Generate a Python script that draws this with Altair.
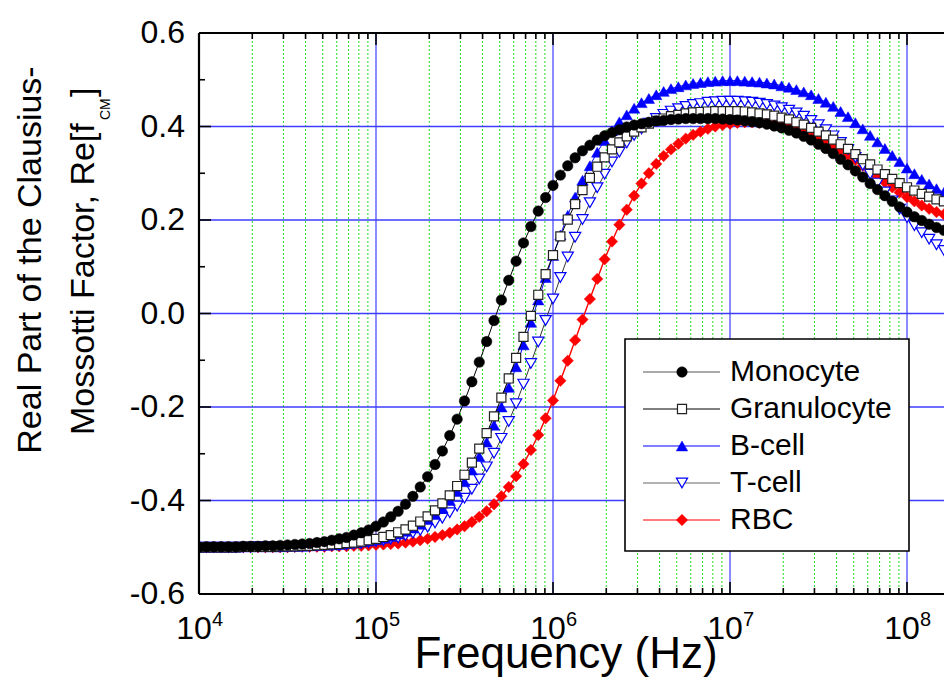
import altair as alt
import pandas as pd
import numpy as np

FONT = "Liberation Sans"

series_names = ["Monocyte", "Granulocyte", "B-cell", "T-cell", "RBC"]

# sampling grid: 24 points per decade, 1e4 Hz ... 10^8.25 Hz
freq_hz = list(np.logspace(4, 8.25, 103))

monocyte = [-0.500, -0.499, -0.499, -0.499, -0.499, -0.499, -0.498, -0.498, -0.498, -0.497,
            -0.497, -0.496, -0.495, -0.494, -0.493, -0.492, -0.490, -0.488, -0.485, -0.482,
            -0.479, -0.474, -0.469, -0.463, -0.455, -0.446, -0.435, -0.423, -0.408, -0.391,
            -0.371, -0.349, -0.323, -0.294, -0.261, -0.226, -0.187, -0.146, -0.104, -0.060,
            -0.015, 0.029, 0.071, 0.112, 0.151, 0.186, 0.219, 0.248, 0.274, 0.296,
            0.316, 0.333, 0.348, 0.360, 0.371, 0.380, 0.387, 0.393, 0.399, 0.403,
            0.406, 0.409, 0.412, 0.413, 0.415, 0.416, 0.417, 0.417, 0.417, 0.417,
            0.417, 0.416, 0.415, 0.414, 0.412, 0.410, 0.408, 0.405, 0.401, 0.397,
            0.392, 0.386, 0.379, 0.371, 0.362, 0.353, 0.342, 0.330, 0.318, 0.305,
            0.292, 0.278, 0.265, 0.252, 0.240, 0.228, 0.217, 0.207, 0.199, 0.191,
            0.184, 0.178, 0.173]

granulocyte = [-0.500, -0.500, -0.500, -0.500, -0.500, -0.500, -0.499, -0.499, -0.499, -0.499,
               -0.499, -0.498, -0.498, -0.498, -0.497, -0.497, -0.496, -0.495, -0.494, -0.493,
               -0.491, -0.490, -0.488, -0.485, -0.482, -0.478, -0.474, -0.468, -0.462, -0.454,
               -0.445, -0.434, -0.421, -0.406, -0.389, -0.369, -0.345, -0.319, -0.289, -0.256,
               -0.220, -0.180, -0.139, -0.095, -0.050, -0.005, 0.040, 0.084, 0.125, 0.165,
               0.201, 0.234, 0.264, 0.290, 0.314, 0.334, 0.351, 0.366, 0.379, 0.389,
               0.398, 0.406, 0.412, 0.417, 0.422, 0.425, 0.428, 0.430, 0.431, 0.432,
               0.433, 0.433, 0.433, 0.433, 0.432, 0.430, 0.428, 0.426, 0.423, 0.419,
               0.415, 0.409, 0.404, 0.397, 0.389, 0.381, 0.372, 0.362, 0.352, 0.341,
               0.330, 0.319, 0.308, 0.298, 0.288, 0.279, 0.270, 0.263, 0.256, 0.250,
               0.244, 0.240, 0.236]

bcell = [-0.500, -0.500, -0.500, -0.500, -0.500, -0.500, -0.499, -0.499, -0.499, -0.499,
         -0.499, -0.499, -0.498, -0.498, -0.498, -0.497, -0.496, -0.496, -0.495, -0.494,
         -0.492, -0.491, -0.489, -0.487, -0.484, -0.481, -0.477, -0.472, -0.466, -0.459,
         -0.451, -0.441, -0.430, -0.416, -0.400, -0.381, -0.360, -0.335, -0.306, -0.275,
         -0.239, -0.200, -0.158, -0.114, -0.067, -0.019, 0.029, 0.077, 0.124, 0.168,
         0.210, 0.249, 0.285, 0.316, 0.345, 0.370, 0.391, 0.410, 0.425, 0.439,
         0.451, 0.460, 0.468, 0.475, 0.481, 0.485, 0.489, 0.492, 0.494, 0.496,
         0.497, 0.498, 0.498, 0.498, 0.497, 0.496, 0.495, 0.493, 0.491, 0.487,
         0.484, 0.479, 0.474, 0.468, 0.460, 0.452, 0.443, 0.432, 0.421, 0.408,
         0.395, 0.381, 0.367, 0.353, 0.338, 0.325, 0.311, 0.299, 0.287, 0.277,
         0.267, 0.259, 0.252]

tcell = [-0.500, -0.500, -0.500, -0.500, -0.500, -0.500, -0.500, -0.500, -0.499, -0.499,
         -0.499, -0.499, -0.499, -0.499, -0.498, -0.498, -0.497, -0.497, -0.496, -0.496,
         -0.495, -0.493, -0.492, -0.490, -0.488, -0.486, -0.483, -0.480, -0.475, -0.470,
         -0.464, -0.457, -0.448, -0.438, -0.426, -0.412, -0.395, -0.376, -0.354, -0.328,
         -0.299, -0.267, -0.231, -0.193, -0.151, -0.107, -0.061, -0.015, 0.031, 0.077,
         0.121, 0.163, 0.201, 0.237, 0.269, 0.298, 0.324, 0.345, 0.365, 0.381,
         0.395, 0.407, 0.417, 0.426, 0.433, 0.438, 0.443, 0.447, 0.449, 0.452,
         0.453, 0.454, 0.454, 0.454, 0.453, 0.452, 0.450, 0.447, 0.444, 0.440,
         0.435, 0.429, 0.422, 0.413, 0.404, 0.393, 0.380, 0.366, 0.351, 0.334,
         0.317, 0.298, 0.279, 0.260, 0.241, 0.223, 0.205, 0.188, 0.173, 0.159,
         0.147, 0.135, 0.125]

rbc = [-0.500, -0.500, -0.500, -0.500, -0.500, -0.500, -0.500, -0.500, -0.500, -0.500,
       -0.500, -0.500, -0.500, -0.499, -0.499, -0.499, -0.499, -0.499, -0.498, -0.498,
       -0.498, -0.497, -0.497, -0.496, -0.495, -0.494, -0.493, -0.492, -0.490, -0.488,
       -0.485, -0.482, -0.478, -0.474, -0.469, -0.462, -0.455, -0.446, -0.435, -0.423,
       -0.408, -0.391, -0.371, -0.348, -0.322, -0.292, -0.260, -0.224, -0.186, -0.144,
       -0.101, -0.057, -0.013, 0.031, 0.074, 0.116, 0.154, 0.190, 0.222, 0.252,
       0.278, 0.300, 0.320, 0.337, 0.351, 0.363, 0.374, 0.382, 0.389, 0.395,
       0.400, 0.403, 0.406, 0.408, 0.409, 0.409, 0.408, 0.407, 0.405, 0.403,
       0.399, 0.395, 0.390, 0.383, 0.376, 0.368, 0.360, 0.350, 0.339, 0.328,
       0.316, 0.305, 0.293, 0.281, 0.270, 0.259, 0.249, 0.240, 0.231, 0.224,
       0.217, 0.212, 0.207]

y_major = [-0.6, -0.4, -0.2, 0.0, 0.2, 0.4, 0.6]
y_major_labels = ["-0.6", "-0.4", "-0.2", "0.0", "0.2", "0.4", "0.6"]
y_minor = [-0.5, -0.3, -0.1, 0.1, 0.3, 0.5]
x_major = [1e4, 1e5, 1e6, 1e7, 1e8]
x_major_exp = ["4", "5", "6", "7", "8"]
x_minor_mult = [2, 3, 4, 5, 6, 7, 8, 9]

DEC = 177.0          # pixels per decade
W, H = 745, 561
XMAX = 10 ** (4 + W / DEC)
x_minor = [m * 10 ** e for e in range(4, 9) for m in x_minor_mult if m * 10 ** e <= XMAX]

xs = alt.Scale(type="log", domain=[1e4, XMAX], nice=False)
ys = alt.Scale(domain=[-0.6, 0.6], nice=False, zero=False)


def X(field="f"):
    return alt.X(f"{field}:Q", scale=xs, axis=None)


def Y(field="v"):
    return alt.Y(f"{field}:Q", scale=ys, axis=None)


layers = []

# grid
df_xminor = pd.DataFrame({"f": x_minor})
df_xmajor = pd.DataFrame({"f": x_major, "e": x_major_exp})
df_ymajor = pd.DataFrame({"v": y_major, "lab": y_major_labels})
df_yminor = pd.DataFrame({"v": y_minor})

layers.append(alt.Chart(df_xminor).mark_rule(color="#22dd22", strokeDash=[2, 2], strokeWidth=1)
              .encode(x=X()))
layers.append(alt.Chart(df_xmajor[df_xmajor.f > 1e4]).mark_rule(color="#5a5aff", strokeWidth=1.4)
              .encode(x=X()))
layers.append(alt.Chart(df_ymajor[(df_ymajor.v > -0.6) & (df_ymajor.v < 0.6)])
              .mark_rule(color="#3c3cff", strokeWidth=1.3).encode(y=Y()))

# series (drawn bottom -> top)
styles = {
    "RBC": dict(line="#ff0000", lw=1.4, shape="diamond", fill="#ff0000", stroke="#ff0000", size=130, sw=0.5),
    "T-cell": dict(line="#333333", lw=1.0, shape="triangle-down", fill="white", stroke="#0000ff", size=125, sw=1.2),
    "B-cell": dict(line="#0000ff", lw=1.0, shape="triangle-up", fill="#0000ff", stroke="#0000ff", size=130, sw=0.5),
    "Granulocyte": dict(line="#000000", lw=1.0, shape="square", fill="white", stroke="#222222", size=82, sw=1.2),
    "Monocyte": dict(line="#000000", lw=1.0, shape="circle", fill="#000000", stroke="#000000", size=110, sw=0.5),
}
values = {"Monocyte": monocyte, "Granulocyte": granulocyte, "B-cell": bcell, "T-cell": tcell, "RBC": rbc}

for name in ["RBC", "T-cell", "B-cell", "Granulocyte", "Monocyte"]:
    st = styles[name]
    d = pd.DataFrame({"f": freq_hz, "v": values[name]})
    base = alt.Chart(d)
    layers.append(base.mark_line(color=st["line"], strokeWidth=st["lw"], clip=True).encode(x=X(), y=Y()))
    layers.append(base.mark_point(shape=st["shape"], filled=True, fill=st["fill"], stroke=st["stroke"],
                                  strokeWidth=st["sw"], size=st["size"], opacity=1, fillOpacity=1, clip=True)
                  .encode(x=X(), y=Y()))

# ticks (inward)
TK = dict(color="black", strokeWidth=1.6)
layers.append(alt.Chart(df_xmajor).mark_rule(**TK).encode(x=X(), y=alt.value(H), y2=alt.value(H - 12)))
layers.append(alt.Chart(df_xminor).mark_rule(**TK).encode(x=X(), y=alt.value(H), y2=alt.value(H - 6)))
layers.append(alt.Chart(df_xmajor).mark_rule(**TK).encode(x=X(), y=alt.value(0), y2=alt.value(12)))
layers.append(alt.Chart(df_xminor).mark_rule(**TK).encode(x=X(), y=alt.value(0), y2=alt.value(6)))
layers.append(alt.Chart(df_ymajor).mark_rule(**TK).encode(y=Y(), x=alt.value(0), x2=alt.value(12)))
layers.append(alt.Chart(df_yminor).mark_rule(**TK).encode(y=Y(), x=alt.value(0), x2=alt.value(6)))

# frame lines
layers.append(alt.Chart(df_xmajor.head(1)).mark_rule(color="black", strokeWidth=2.2).encode(x=alt.value(0)))
layers.append(alt.Chart(df_xmajor.head(1)).mark_rule(color="black", strokeWidth=2.2).encode(y=alt.value(0)))
layers.append(alt.Chart(df_xmajor.head(1)).mark_rule(color="black", strokeWidth=2.2).encode(y=alt.value(H)))

# tick labels
layers.append(alt.Chart(df_ymajor).mark_text(font=FONT, fontSize=32, align="right", baseline="middle")
              .encode(y=Y(), x=alt.value(-14), text="lab:N"))
layers.append(alt.Chart(df_xmajor).mark_text(font=FONT, fontSize=32, align="center", baseline="alphabetic", dx=-5)
              .encode(x=X(), y=alt.value(H + 45), text=alt.value("10")))
layers.append(alt.Chart(df_xmajor).mark_text(font=FONT, fontSize=20, align="left", baseline="alphabetic", dx=13)
              .encode(x=X(), y=alt.value(H + 32), text="e:N"))

# axis titles
titles = pd.DataFrame({"t": ["Frequency (Hz)"]})
layers.append(alt.Chart(titles).mark_text(font=FONT, fontSize=44, align="center", baseline="alphabetic")
              .encode(x=alt.value(367), y=alt.value(635), text="t:N"))
yt1 = pd.DataFrame({"t": ["Real Part of the Clausius-"]})
layers.append(alt.Chart(yt1).mark_text(font=FONT, fontSize=34, angle=270, align="center", baseline="alphabetic")
              .encode(x=alt.value(-158), y=alt.value(227), text="t:N"))
yt2 = pd.DataFrame({"t": ["Mossotti Factor, Re[f"]})
layers.append(alt.Chart(yt2).mark_text(font=FONT, fontSize=34, angle=270, align="left", baseline="alphabetic")
              .encode(x=alt.value(-105), y=alt.value(402), text="t:N"))
yt3 = pd.DataFrame({"t": ["CM"]})
layers.append(alt.Chart(yt3).mark_text(font=FONT, fontSize=14, angle=270, align="left", baseline="alphabetic")
              .encode(x=alt.value(-89), y=alt.value(87), text="t:N"))
yt4 = pd.DataFrame({"t": ["]"]})
layers.append(alt.Chart(yt4).mark_text(font=FONT, fontSize=34, angle=270, align="left", baseline="alphabetic")
              .encode(x=alt.value(-105), y=alt.value(64), text="t:N"))

# legend
leg_y0, leg_dy = 339, 37
legend_df = pd.DataFrame({
    "name": series_names,
    "ly": [leg_y0 + leg_dy * i for i in range(len(series_names))],
})
box_df = pd.DataFrame({"x0": [426], "x1": [710], "y0": [306], "y1": [518]})
layers.append(alt.Chart(box_df).mark_rect(fill="white", stroke="black", strokeWidth=1.6)
              .encode(x=alt.X("x0:Q", scale=None), x2="x1:Q",
                      y=alt.Y("y0:Q", scale=None), y2="y1:Q"))
leg_line_colors = {"Monocyte": "#555555", "Granulocyte": "#000000", "B-cell": "#0000ff",
                   "T-cell": "#666666", "RBC": "#ff0000"}
for name in series_names:
    st = styles[name]
    row = legend_df[legend_df.name == name]
    b = alt.Chart(row)
    layers.append(b.mark_rule(color=leg_line_colors[name], strokeWidth=1.2)
                  .encode(x=alt.value(444), x2=alt.value(521), y=alt.Y("ly:Q", scale=None)))
    layers.append(b.mark_point(shape=st["shape"], filled=True, fill=st["fill"], stroke=st["stroke"],
                               strokeWidth=st["sw"], size=st["size"], opacity=1, fillOpacity=1)
                  .encode(x=alt.value(483), y=alt.Y("ly:Q", scale=None)))
layers.append(alt.Chart(legend_df).mark_text(font=FONT, fontSize=30, align="left", baseline="middle")
              .encode(x=alt.value(531), y=alt.Y("ly:Q", scale=None), text="name:N"))

chart = alt.layer(*layers).properties(
    width=W, height=H,
    padding={"left": 191, "top": 25, "right": 0, "bottom": 84},
    autosize=alt.AutoSizeParams(type="none"),
    background="white",
).configure_view(stroke=None)

chart.save("out.html", embed_options={"renderer": "svg", "actions": False})
